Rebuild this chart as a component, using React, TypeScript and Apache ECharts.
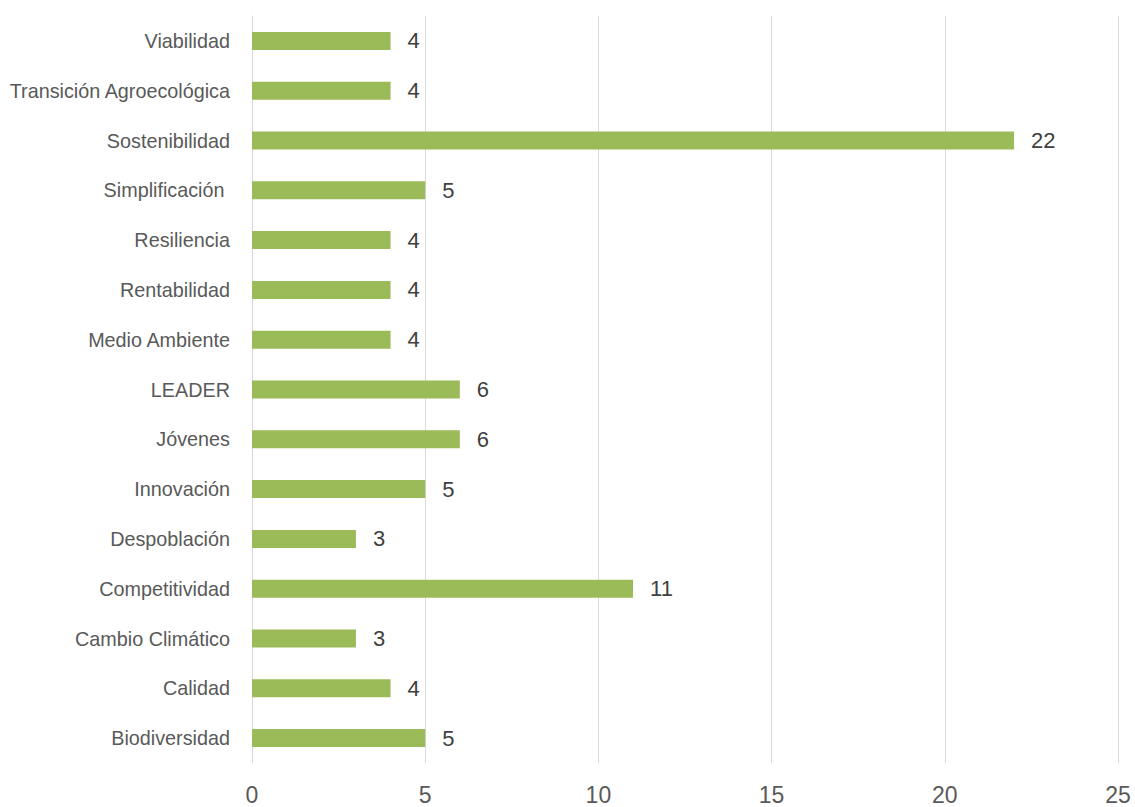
import React, { useEffect, useRef } from "react";
import * as echarts from "echarts";

const categories = [
  "Viabilidad",
  "Transición Agroecológica",
  "Sostenibilidad",
  "Simplificación ",
  "Resiliencia",
  "Rentabilidad",
  "Medio Ambiente",
  "LEADER",
  "Jóvenes",
  "Innovación",
  "Despoblación",
  "Competitividad",
  "Cambio Climático",
  "Calidad",
  "Biodiversidad",
];
const values = [4, 4, 22, 5, 4, 4, 4, 6, 6, 5, 3, 11, 3, 4, 5];

const FONT = "'Liberation Sans Narrow', 'Arial Narrow', 'Liberation Sans', Arial, sans-serif";

export default function App() {
  const ref = useRef<HTMLDivElement>(null);
  useEffect(() => {
    if (!ref.current) return;
    const chart = echarts.init(ref.current, undefined, { renderer: "svg" });
    chart.setOption({
      animation: false,
      backgroundColor: "#ffffff",
      grid: { left: 252, right: 17, top: 16, bottom: 44, containLabel: false },
      xAxis: {
        type: "value",
        min: 0,
        max: 25,
        interval: 5,
        axisLine: { show: false },
        axisTick: { show: false },
        splitLine: { show: true, lineStyle: { color: "#d9d9d9", width: 1 } },
        axisLabel: { color: "#595959", fontSize: 23, fontFamily: FONT, margin: 20 },
      },
      yAxis: {
        type: "category",
        data: categories,
        inverse: true,
        axisLine: { show: true, lineStyle: { color: "#d9d9d9", width: 1 } },
        axisTick: { show: false },
        axisLabel: { color: "#595959", fontSize: 19.8, fontFamily: FONT, margin: 22 },
      },
      series: [
        {
          type: "bar",
          data: values,
          barWidth: 18,
          itemStyle: { color: "#9BBB59" },
          label: {
            show: true,
            position: "right",
            distance: 17,
            color: "#404040",
            fontSize: 22,
            fontFamily: FONT,
          },
        },
      ],
    });
    return () => chart.dispose();
  }, []);
  return (
    <div
      ref={ref}
      style={{ position: "absolute", left: 0, top: 0, width: 1135, height: 807 }}
    />
  );
}
